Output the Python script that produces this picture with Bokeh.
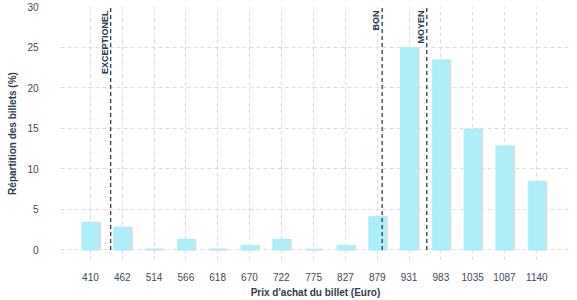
import numpy as np
from bokeh.plotting import figure
from bokeh.models import ColumnDataSource, FixedTicker, Range1d
from bokeh.core.properties import value
from bokeh.embed import file_html
from bokeh.resources import INLINE

prices = [410, 462, 514, 566, 618, 670, 722, 775, 827, 879, 931, 983, 1035, 1087, 1140]
shares = [3.4, 2.8, 0.1, 1.3, 0.1, 0.55, 1.3, 0.08, 0.55, 4.1, 24.9, 23.4, 14.9, 12.8, 8.45]
ref_names = ["EXCEPTIONEL", "BON", "MOYEN"]
ref_prices = [443, 887, 960]
y_ticks = [0, 5, 10, 15, 20, 25, 30]

NAVY = "#2c3e50"
TICK = "#3d4b5c"

p = figure(width=577, height=300, output_backend="svg", toolbar_location=None,
           x_range=Range1d(361, 1195), y_range=Range1d(-1.3, 30),
           min_border_left=60, min_border_right=7, min_border_top=6, min_border_bottom=40)
p.outline_line_color = None
p.background_fill_color = "white"

px_per_euro = 510 / (1195 - 361)
bar_w = 17 / px_per_euro
shadow_dx = 1.5 / px_per_euro

src = ColumnDataSource(dict(x=prices, y=shares,
                            xs=[v + shadow_dx for v in prices]))
p.vbar(x="xs", top="y", bottom=0, width=bar_w, source=src, color="#dcdcdc")
p.vbar(x="x", top="y", bottom=0, width=bar_w, source=src, color="#aeeef8")

p.segment(x0=ref_prices, x1=ref_prices, y0=[0] * 3, y1=[30] * 3,
          line_color=NAVY, line_width=1.3, line_dash="4 3")
text_y = 30 - 4 / (254 / 31.3)
p.text(x=ref_prices, y=[text_y] * 3, text=ref_names, angle=np.pi / 2,
       text_align="right", text_baseline="bottom", x_offset=-1,
       text_font=value("Liberation Sans"), text_font_size="9px",
       text_font_style="bold", text_color=NAVY)

for ax in (p.xaxis, p.yaxis):
    ax.axis_line_color = None
    ax.major_tick_line_color = None
    ax.minor_tick_line_color = None
    ax.major_label_text_font = "Liberation Sans"
    ax.major_label_text_font_size = "10px"
    ax.major_label_text_color = TICK
    ax.axis_label_text_font = "Liberation Sans"
    ax.axis_label_text_font_size = "10px"
    ax.axis_label_text_font_style = "bold"
    ax.axis_label_text_color = NAVY

p.xaxis.ticker = FixedTicker(ticks=prices)
p.yaxis.ticker = FixedTicker(ticks=y_ticks)
p.xaxis.axis_label = "Prix d'achat du billet (Euro)"
p.yaxis.axis_label = "Répartition des billets (%)"
p.xaxis.major_label_standoff = 6
p.yaxis.major_label_standoff = 16
p.xaxis.axis_label_standoff = 3
p.yaxis.axis_label_standoff = 6

p.xgrid.grid_line_color = "#dddddd"
p.ygrid.grid_line_color = "#dddddd"
p.xgrid.grid_line_dash = "4 3"
p.ygrid.grid_line_dash = "4 3"
p.xgrid.ticker = FixedTicker(ticks=prices)
p.ygrid.ticker = FixedTicker(ticks=y_ticks)

open("out.html", "w").write(file_html(p, INLINE))
